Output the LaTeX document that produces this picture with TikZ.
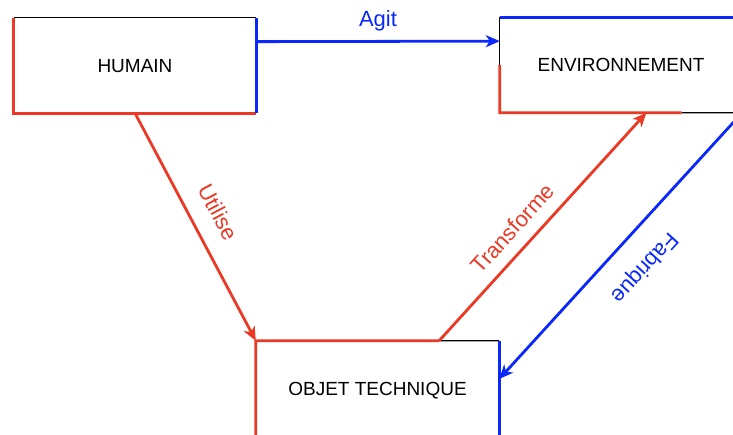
\documentclass[tikz,border=0pt]{standalone}
\usepackage{fontspec}
\setmainfont{Liberation Sans}
\usetikzlibrary{arrows.meta,calc}
\definecolor{myred}{RGB}{234,57,37}
\definecolor{myblue}{RGB}{10,40,250}
\begin{document}
\begin{tikzpicture}[x=1pt,y=-1pt,
  box/.style={minimum width=242pt, minimum height=95pt, inner sep=0pt, text depth=0pt, font=\fontsize{19}{22}\selectfont},
  thinedge/.style={black, line width=1.3pt},
  rededge/.style={myred, line width=2.7pt, line join=miter},
  blueedge/.style={myblue, line width=2.7pt, line join=miter},
  conn/.style={line width=2.8pt, -{Stealth[length=14pt,width=12pt,inset=4pt]}},
  lbl/.style={font=\fontsize{22}{26}\selectfont, inner sep=0pt},
]
\clip (0,0) rectangle (733,435);
\fill[white] (0,0) rectangle (733,435);
% boxes
\node[box] (h) at (135,65.5) {HUMAIN};
\node[box] (e) at (621,65) {ENVIRONNEMENT};
\node[box, minimum width=243pt] (o) at (377.5,388.5) {OBJET TECHNIQUE};
% helper points
\coordinate (hagit) at ($(h.north east)!0.25!(h.south east)$);
\coordinate (eagit) at ($(e.north west)!0.25!(e.south west)$);
\coordinate (ebr) at ($(e.south west)!0.75!(e.south east)$);
\coordinate (etr) at ($(e.south west)!0.605!(e.south east)$);
\coordinate (otr) at ($(o.north west)!0.753!(o.north east)$);
\coordinate (ofab) at ($(o.north east)!0.4!(o.south east)$);
% HUMAIN edges
\draw[thinedge] (h.north west) -- (h.north east);
\draw[rededge] (h.north west) -- (h.south west) -- (h.south east);
\draw[blueedge] (h.north east) -- (h.south east);
% ENVIRONNEMENT edges
\draw[thinedge] (e.north west) -- (e.west);
\draw[thinedge] (ebr) -- (e.south east);
\draw[rededge] (e.west) -- (e.south west) -- (ebr);
\draw[blueedge] (e.north west) -- (e.north east);
% OBJET TECHNIQUE edges
\draw[thinedge] (otr) -- (o.north east);
\draw[rededge] (o.south west) -- (o.north west) -- (otr);
\draw[blueedge] (o.north east) -- (o.south east);
% connectors
\draw[conn, myblue] (hagit) -- node[lbl, above=9pt] {Agit} (eagit);
\draw[conn, myred] (h.south) -- node[lbl, sloped, pos=0.49, above=18pt] {Utilise} (o.north west);
\draw[conn, myred] (otr) -- node[lbl, sloped, pos=0.43, above=12pt] {Transforme} (etr);
\draw[conn, myblue] (e.south east) -- node[lbl, sloped, allow upside down, pos=0.5, above=20pt] {Fabrique} (ofab);
\end{tikzpicture}
\end{document}
